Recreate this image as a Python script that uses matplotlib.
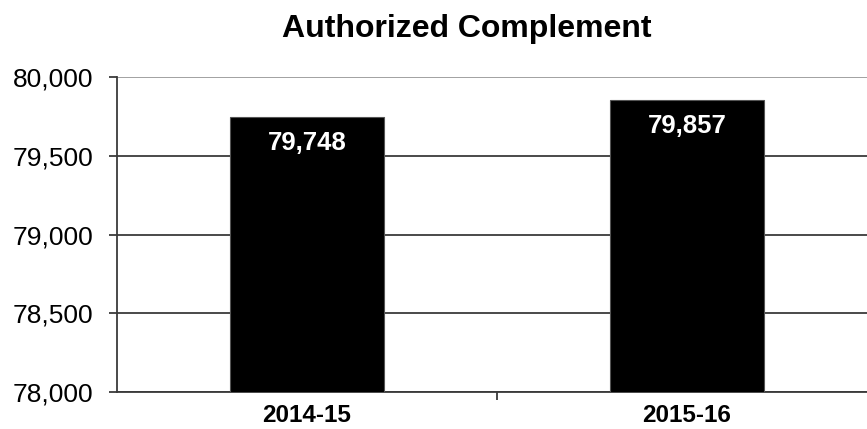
import matplotlib
matplotlib.use("Agg")
import matplotlib.pyplot as plt
from matplotlib.ticker import FuncFormatter

# data
years = ["2014-15", "2015-16"]
complement = [79748, 79857]
yticks = [78000, 78500, 79000, 79500, 80000]

plt.rcParams['font.family'] = ['Liberation Sans', 'DejaVu Sans']

fig = plt.figure(figsize=(8.67, 4.29), dpi=100)
ax = fig.add_axes([117 / 867, 37 / 429, 760 / 867, 315 / 429])

x = list(range(len(years)))
bars = ax.bar(x, complement, width=0.405, color='black', edgecolor='#555555',
              linewidth=0.8, zorder=3)

ax.set_xlim(-0.5, 1.5)
ax.set_ylim(78000, 80000)
ax.set_yticks(yticks)
ax.yaxis.set_major_formatter(FuncFormatter(lambda v, p: f"{int(v):,}"))
ax.grid(axis='y', color='#3a3a3a', linewidth=1.3, zorder=1)

# category labels, with a separator tick between categories
ax.set_xticks(x)
ax.set_xticklabels(years, fontsize=17.5, fontweight='bold')
ax.set_xticks([0.5], minor=True)
ax.tick_params(axis='x', which='major', length=0, pad=9)
ax.tick_params(axis='x', which='minor', length=6, width=1.3, color='#3a3a3a')
ax.tick_params(axis='y', length=6, width=1.3, color='#3a3a3a', labelsize=19, pad=11)

for s in ['top', 'right']:
    ax.spines[s].set_visible(False)
ax.spines['left'].set_color('#3a3a3a')
ax.spines['left'].set_linewidth(1.3)
ax.spines['bottom'].set_color('#3a3a3a')
ax.spines['bottom'].set_linewidth(1.3)
ax.get_ygridlines()[-1].set_color('#9a9a9a')

for b, v in zip(bars, complement):
    ax.annotate(f"{v:,}", (b.get_x() + b.get_width() / 2, v),
                xytext=(0, -19), textcoords='offset points',
                ha='center', va='center', color='white',
                fontsize=18.5, fontweight='bold', zorder=4)

fig.text(467 / 867, 1 - 29 / 429, "Authorized Complement", ha='center', va='center',
         fontsize=23, fontweight='bold')

fig.savefig("out.png", dpi=100)
